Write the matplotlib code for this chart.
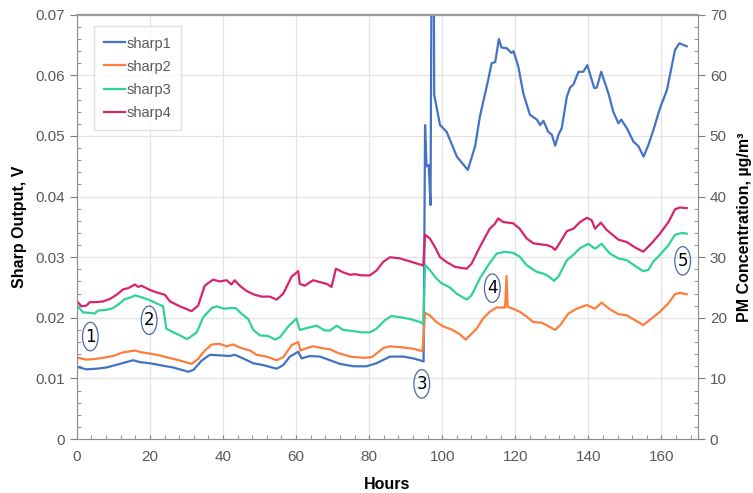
import matplotlib
matplotlib.use("Agg")
import matplotlib.pyplot as plt
from matplotlib.patches import Ellipse
from matplotlib.ticker import MultipleLocator

plt.rcParams["font.family"] = ["Liberation Sans", "DejaVu Sans"]

# sharp1 (blue)
hours1 = [0.1, 2.6, 5.4, 8.1, 11.8, 15.4, 17.2, 20, 23.6, 26.4, 30.5, 31.9, 34.1, 36.4,
          39.1, 41.9, 43.2, 45.5, 48.3, 51.0, 54.7, 56.5, 58.3, 60.6, 61.5, 63.8, 66.5,
          69.3, 72.0, 75.7, 79.3, 82.0, 83.0, 85.7, 89.4, 92.1, 94.4, 94.9,
          95.3, 95.7, 96.3, 96.8, 97.2, 97.6, 97.8, 99.4, 101.2, 104.0, 107.0, 109.0,
          110.3, 112.6, 113.5, 114.5, 115.5, 116.2, 117.6, 119.0, 119.5, 120.8, 122.2,
          124.0, 125.9, 126.8, 127.7, 129.0, 130.0, 130.9, 131.8, 132.7, 134.1, 135.0,
          135.9, 137.3, 138.6, 139.7, 141.6, 142.3, 143.5, 145.5, 146.8, 148.2, 149.0,
          150.5, 152.3, 153.7, 155.1, 156.4, 157.8, 159.6, 161.5, 162.8, 163.7, 164.9,
          166.9]
sharp1 = [0.0119, 0.0115, 0.0116, 0.0118, 0.0124, 0.0130, 0.0127, 0.0125, 0.0121, 0.0118,
          0.0111, 0.0114, 0.0129, 0.0139, 0.0138, 0.0137, 0.0139, 0.0133, 0.0125, 0.0122,
          0.0116, 0.0122, 0.0136, 0.0144, 0.0133, 0.0137, 0.0136, 0.0130, 0.0124, 0.0120,
          0.0120, 0.0125, 0.0128, 0.0136, 0.0136, 0.0133, 0.0129, 0.0128,
          0.0518, 0.0450, 0.0452, 0.0386, 0.0950, 0.0950, 0.0568, 0.0518, 0.0507, 0.0466,
          0.0444, 0.0483, 0.0532, 0.0593, 0.0620, 0.0622, 0.0660, 0.0646, 0.0645, 0.0637,
          0.0640, 0.0615, 0.0570, 0.0535, 0.0527, 0.0518, 0.0525, 0.0507, 0.0502, 0.0484,
          0.0502, 0.0513, 0.0565, 0.0580, 0.0585, 0.0606, 0.0606, 0.0617, 0.0579, 0.0580,
          0.0606, 0.0570, 0.0540, 0.0521, 0.0527, 0.0513, 0.0491, 0.0483, 0.0466, 0.0485,
          0.0510, 0.0546, 0.0576, 0.0615, 0.0642, 0.0653, 0.0648]

# sharp2 (orange)
hours2 = [0.4, 2.6, 4.9, 7.2, 9.9, 12.7, 15.9, 17.7, 20, 22.7, 24.5, 27.3, 31.4, 33.2,
          35.0, 36.9, 39.1, 41.0, 42.8, 44.6, 47.4, 49.2, 51.9, 54.7, 56.5, 58.8, 60.6,
          61.2, 62.9, 64.7, 67.0, 69.3, 71.5, 74.8, 78.4, 80.7, 83.9, 85.7, 89.4, 92.0,
          94.6, 95.3, 96.6, 98.4, 100.2, 102.5, 104.8, 106.4, 107.6, 109.4, 111.2, 113.0,
          114.9, 117.2, 117.6, 117.9, 119.4, 121.2, 123.1, 124.9, 127.2, 129.1, 130.9,
          132.3, 134.5, 136.8, 139.6, 141.8, 143.6, 145.9, 148.2, 150.5, 152.8, 155.0,
          157.3, 159.6, 161.9, 163.7, 165.0, 166.9]
sharp2 = [0.0134, 0.0131, 0.0132, 0.0134, 0.0137, 0.0143, 0.0146, 0.0143, 0.0141, 0.0138,
          0.0135, 0.0131, 0.0124, 0.0132, 0.0146, 0.0156, 0.0157, 0.0153, 0.0156, 0.0151,
          0.0146, 0.0139, 0.0136, 0.0130, 0.0135, 0.0155, 0.0160, 0.0146, 0.0150, 0.0153,
          0.0150, 0.0148, 0.0142, 0.0136, 0.0134, 0.0135, 0.0150, 0.0153, 0.0151, 0.0149,
          0.0145, 0.0208, 0.0204, 0.0193, 0.0186, 0.0181, 0.0173, 0.0164, 0.0171, 0.0182,
          0.0199, 0.0210, 0.0217, 0.0217, 0.0269, 0.0218, 0.0215, 0.0210, 0.0202, 0.0193,
          0.0192, 0.0186, 0.0180, 0.0188, 0.0207, 0.0215, 0.0221, 0.0215, 0.0225, 0.0214,
          0.0206, 0.0204, 0.0196, 0.0188, 0.0199, 0.0210, 0.0224, 0.0239, 0.0241, 0.0239]

# sharp3 (teal)
hours3 = [0.4, 1.7, 3.6, 4.9, 5.8, 8.1, 9.9, 11.8, 13.1, 14.5, 15.9, 17.7, 20, 21.8, 23.6,
          24.5, 26.4, 28.2, 30.1, 31.0, 32.8, 34.6, 36.9, 38.3, 40.2, 42.0, 43.5, 45.0,
          46.9, 48.3, 50.1, 52.4, 54.3, 55.6, 57.9, 60.1, 61.0, 62.9, 65.6, 67.9, 69.3,
          71.1, 72.9, 75.7, 78.0, 80.2, 82.0, 84.3, 86.1, 88.4, 91.2, 93.9, 94.8, 95.3,
          96.6, 98.4, 99.8, 102.1, 103.9, 106.7, 108.0, 110.3, 112.6, 114.9, 117.2, 119.4,
          121.2, 123.1, 125.8, 127.6, 129.0, 130.6, 131.8, 134.1, 135.9, 137.7, 140.0,
          141.8, 143.6, 145.9, 148.2, 150.5, 153.2, 155.0, 156.4, 157.8, 159.6, 161.9,
          163.7, 165.5, 166.9]
sharp3 = [0.0218, 0.0209, 0.0208, 0.0207, 0.0212, 0.0213, 0.0216, 0.0224, 0.0231, 0.0233,
          0.0237, 0.0234, 0.0229, 0.0224, 0.0219, 0.0182, 0.0176, 0.0171, 0.0165, 0.0168,
          0.0176, 0.0201, 0.0216, 0.0219, 0.0215, 0.0216, 0.0216, 0.0207, 0.0198, 0.0180,
          0.0171, 0.0170, 0.0164, 0.0168, 0.0186, 0.0199, 0.0180, 0.0183, 0.0187, 0.0179,
          0.0179, 0.0187, 0.0180, 0.0178, 0.0176, 0.0176, 0.0182, 0.0196, 0.0203, 0.0201,
          0.0198, 0.0193, 0.0190, 0.0287, 0.0279, 0.0265, 0.0257, 0.0250, 0.0240, 0.0230,
          0.0237, 0.0265, 0.0287, 0.0306, 0.0309, 0.0307, 0.0301, 0.0287, 0.0276, 0.0273,
          0.0269, 0.0261, 0.0268, 0.0295, 0.0304, 0.0315, 0.0322, 0.0314, 0.0322, 0.0306,
          0.0298, 0.0295, 0.0284, 0.0277, 0.0279, 0.0293, 0.0304, 0.0320, 0.0337, 0.0340,
          0.0339]

# sharp4 (magenta)
hours4 = [0.4, 1.3, 2.6, 3.6, 5.4, 7.2, 9.0, 10.9, 12.7, 14.1, 15.9, 16.8, 17.7, 20, 21.8,
          24.1, 25.5, 28.2, 31.4, 33.2, 35.0, 37.3, 39.1, 41.0, 42.3, 43.2, 44.6, 46.5,
          48.7, 50.6, 52.8, 54.7, 56.5, 58.8, 60.6, 61.0, 62.4, 64.7, 66.5, 68.4, 69.7,
          70.9, 72.9, 74.8, 76.1, 78.0, 80.2, 82.0, 83.8, 85.7, 88.4, 91.2, 93.9, 94.8,
          95.3, 96.6, 98.0, 99.4, 101.2, 103.5, 106.7, 108.0, 110.3, 113.0, 114.4, 115.3,
          116.7, 119.4, 121.2, 123.1, 124.9, 127.2, 128.6, 130.0, 130.9, 131.8, 134.1,
          135.9, 137.7, 139.6, 140.9, 141.8, 143.4, 145.0, 148.2, 150.5, 152.8, 155.0,
          157.3, 159.6, 161.9, 163.7, 165.0, 166.9]
sharp4 = [0.0225, 0.0219, 0.0220, 0.0226, 0.0226, 0.0227, 0.0231, 0.0238, 0.0247, 0.0249,
          0.0255, 0.0251, 0.0253, 0.0246, 0.0242, 0.0238, 0.0227, 0.0219, 0.0211, 0.0220,
          0.0253, 0.0263, 0.0260, 0.0262, 0.0255, 0.0262, 0.0253, 0.0244, 0.0238, 0.0235,
          0.0235, 0.0230, 0.0240, 0.0268, 0.0277, 0.0256, 0.0253, 0.0262, 0.0259, 0.0256,
          0.0251, 0.0281, 0.0275, 0.0271, 0.0272, 0.0270, 0.0270, 0.0278, 0.0292, 0.0300,
          0.0298, 0.0293, 0.0288, 0.0286, 0.0337, 0.0331, 0.0317, 0.0300, 0.0292, 0.0284,
          0.0281, 0.0289, 0.0317, 0.0347, 0.0355, 0.0364, 0.0358, 0.0356, 0.0347, 0.0331,
          0.0323, 0.0321, 0.0320, 0.0317, 0.0312, 0.0320, 0.0343, 0.0347, 0.0358, 0.0365,
          0.0361, 0.0347, 0.0357, 0.0345, 0.0329, 0.0325, 0.0316, 0.0309, 0.0323, 0.0339,
          0.0358, 0.0379, 0.0382, 0.0381]

labels = ["sharp1", "sharp2", "sharp3", "sharp4"]
colors = ["#4472c4", "#fd7d3c", "#2fd19c", "#d6246e"]

# circled event markers
marker_text = ["1", "2", "3", "4", "5"]
marker_h = [3.7, 19.8, 94.4, 113.7, 165.8]
marker_v = [0.0169, 0.0196, 0.0091, 0.0249, 0.0294]

fig = plt.figure(figsize=(7.53, 4.93), dpi=100)
ax = fig.add_axes([0.102, 0.1095, 0.825, 0.8605])

for h, v, lab, c in zip([hours1, hours2, hours3, hours4],
                        [sharp1, sharp2, sharp3, sharp4], labels, colors):
    ax.plot(h, v, color=c, lw=1.6, label=lab)

for t, h, v in zip(marker_text, marker_h, marker_v):
    ax.add_patch(Ellipse((h, v), 4.3, 0.0047, fill=False, ec="#4a68a8", lw=0.9))
    ax.text(h, v, t, ha="center", va="center", fontsize=12, color="black",
            family=["DejaVu Sans"])

ax.set_xlim(0, 170)
ax.set_ylim(0, 0.07)
ax.xaxis.set_major_locator(MultipleLocator(20))
ax.xaxis.set_minor_locator(MultipleLocator(4))
ax.yaxis.set_major_locator(MultipleLocator(0.01))
ax.yaxis.set_minor_locator(MultipleLocator(0.002))
ax.yaxis.set_major_formatter(plt.FuncFormatter(lambda v, p: "0" if v == 0 else f"{v:.2f}"))
ax.grid(True, which="major", color="#e3e3e3", lw=0.9)
ax.set_axisbelow(True)

ax.tick_params(axis="both", which="major", labelsize=11, labelcolor="#595959",
               color="#7f7f7f")
ax.tick_params(axis="y", which="major", direction="out", length=5)
ax.tick_params(axis="x", which="major", direction="in", length=3, pad=8)
ax.tick_params(axis="both", which="minor", direction="in", length=3, color="#7f7f7f")
for s in ["left", "bottom", "right"]:
    ax.spines[s].set_color("#8c8c8c")
ax.spines["top"].set_color("#9a9a9a")
ax.spines["top"].set_linewidth(1.6)

ax.set_xlabel("Hours", fontsize=11.5, fontweight="bold", labelpad=9)
ax.set_ylabel("Sharp Output, V", fontsize=11.5, fontweight="bold", labelpad=6)

ax2 = ax.twinx()
ax2.set_ylim(0, 70)
ax2.yaxis.set_major_locator(MultipleLocator(10))
ax2.yaxis.set_minor_locator(MultipleLocator(2))
ax2.tick_params(axis="y", which="major", direction="out", length=5, labelsize=11,
                labelcolor="#595959", color="#7f7f7f")
ax2.tick_params(axis="y", which="minor", direction="in", length=3, color="#7f7f7f")
for s in ax2.spines.values():
    s.set_visible(False)
ax2.set_ylabel("PM Concentration, µg/m³", fontsize=11.5, fontweight="bold", labelpad=7)

leg = ax.legend(loc="upper left", bbox_to_anchor=(0.016, 0.99), fontsize=10.5,
                handlelength=1.4, handletextpad=0.1, labelspacing=0.62,
                fancybox=False, edgecolor="#d9d9d9", borderpad=0.7)
for t in leg.get_texts():
    t.set_color("#595959")

fig.savefig("out.png", dpi=100)
